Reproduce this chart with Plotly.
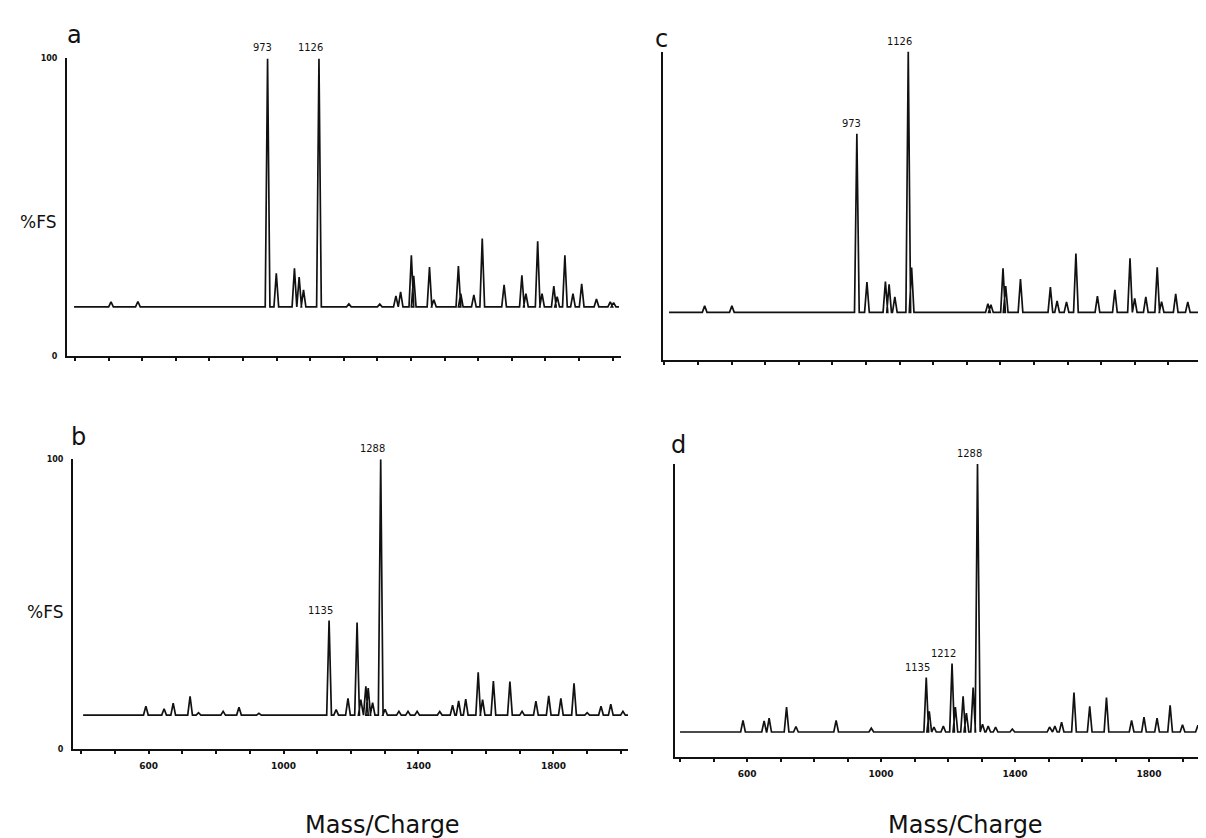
import plotly.graph_objects as go

W, H = 1206, 838

# ---------------- data ----------------
# Panel a: peak m/z and intensity (%FS)
a_mz = [507, 587, 973, 999, 1053, 1067, 1080, 1126, 1215, 1307, 1355, 1369, 1401, 1408,
        1455, 1468, 1541, 1548, 1587, 1612, 1677, 1730, 1742, 1777, 1790, 1825, 1835,
        1858, 1882, 1908, 1952, 1993, 2003]
a_int = [18.3, 18.4, 100, 27.9, 29.5, 26.6, 22.3, 100, 17.6, 17.5, 20.3, 21.6, 33.9, 27,
         30, 19, 30.3, 21, 20.6, 39.5, 24, 27.2, 21, 38.6, 21, 23.6, 20,
         33.9, 21, 24.3, 19.2, 18.3, 18]
a_base = 16.6
a_span = [397, 2019]

# Panel b
b_mz = [592, 646, 673, 723, 748, 821, 868, 927, 1135, 1156, 1191, 1218, 1229, 1244, 1251,
        1264, 1288, 1301, 1342, 1369, 1396, 1463, 1501, 1519, 1540, 1577, 1590, 1622,
        1671, 1707, 1748, 1786, 1822, 1861, 1900, 1941, 1970, 2006]
b_int = [14.8, 13.9, 15.8, 18.2, 12.5, 13, 14.4, 12.3, 44.3, 13.6, 17.5, 43.6, 17, 21.6, 21,
         16, 100, 13.7, 13, 13, 13, 12.9, 15.1, 16.6, 17.2, 26.5, 17, 23.4,
         23.3, 13, 16.5, 18.3, 17.5, 22.7, 12.5, 14.8, 15.5, 13]
b_base = 11.7
b_span = [406, 2021]

# Panel c
c_mz = [520, 601, 973, 1003, 1058, 1069, 1086, 1126, 1136, 1363, 1372, 1408, 1416, 1460,
        1549, 1569, 1597, 1625, 1689, 1741, 1786, 1800, 1833, 1867, 1880, 1922, 1958]
c_int = [17.6, 17.6, 73.4, 25.3, 25.5, 24.6, 20.5, 100, 30, 18.3, 18, 29.8, 24, 26.3,
         23.7, 19.2, 18.9, 34.6, 20.8, 22.8, 33, 20, 20.5, 30.1, 19, 21.5, 18.9]
c_base = 15.5
c_span = [414, 2036]

# Panel d
d_mz = [588, 651, 666, 718, 746, 866, 971, 1135, 1144, 1158, 1186, 1212, 1222, 1245, 1255,
        1275, 1288, 1303, 1320, 1342, 1392, 1503, 1519, 1539, 1576, 1623, 1673, 1748,
        1785, 1824, 1863, 1900, 1946, 1976]
d_int = [12.5, 12.3, 13.2, 17, 10.4, 12.5, 9.8, 27.1, 15.6, 10.2, 10.5, 31.9, 17, 20.7, 15,
         23.7, 100, 11.2, 10.5, 10.2, 9.5, 10.2, 10.5, 11.9, 22, 17.3, 20.3, 12.5,
         13.6, 13.2, 17.6, 11, 10.8, 12.2]
d_base = 8.5
d_span = [400, 1994]

# labelled peaks per panel
a_labels = [973, 1126]
b_labels = [1135, 1288]
c_labels = [973, 1126]
d_labels = [1135, 1212, 1288]

x_tick_labels = {600: "600", 1000: "1000", 1400: "1400", 1800: "1800"}
y_label = "%FS"
x_title = "Mass/Charge"

# ---------------- layout geometry (pixels) ----------------
def px(x):
    return x / W

def py(y):
    return 1 - y / H

panels = {
    "a": dict(mz=a_mz, it=a_int, base=a_base, span=a_span, labels=a_labels,
              xdom=[59, 613], ydom=[348, 47], xr=[376, 2025], xlab=False, ylab=True),
    "b": dict(mz=b_mz, it=b_int, base=b_base, span=b_span, labels=b_labels,
              xdom=[65, 620], ydom=[745, 452], xr=[376, 2021], xlab=True, ylab=True),
    "c": dict(mz=c_mz, it=c_int, base=c_base, span=c_span, labels=c_labels,
              xdom=[655, 1206], ydom=[352, 40], xr=[396, 2036], xlab=False, ylab=False),
    "d": dict(mz=d_mz, it=d_int, base=d_base, span=d_span, labels=d_labels,
              xdom=[667, 1206], ydom=[753, 457], xr=[385, 1994], xlab=True, ylab=False),
}

HALF_W = 7  # half width of a peak at its base, in m/z units (style)

fig = go.Figure()
annotations = []
ink = "#111111"
layout_axes = {}

for i, (name, p) in enumerate(panels.items()):
    n = "" if i == 0 else str(i + 1)
    xa, ya = "x" + n, "y" + n
    # build the trace outline from the peak list
    xs = [p["span"][0]]
    ys = [p["base"]]
    for m, h in sorted(zip(p["mz"], p["it"])):
        xs += [m - HALF_W, m, m + HALF_W]
        ys += [p["base"], h, p["base"]]
    xs.append(p["span"][1])
    ys.append(p["base"])
    fig.add_trace(go.Scatter(x=xs, y=ys, mode="lines", xaxis=xa, yaxis=ya,
                             line=dict(color=ink, width=1.7), showlegend=False,
                             hoverinfo="skip"))

    ticks = list(range(400, 2001, 100))
    text = [x_tick_labels.get(t, "") if p["xlab"] else "" for t in ticks]
    layout_axes["xaxis" + n] = dict(
        domain=[px(p["xdom"][0]), px(p["xdom"][1])], range=p["xr"], anchor=ya,
        showline=True, linecolor=ink, linewidth=2, showgrid=False, zeroline=False,
        ticks="outside", ticklen=3, tickwidth=1.5, tickcolor=ink,
        tickvals=ticks, ticktext=text, ticklabelstandoff=4,
        tickfont=dict(family="DejaVu Sans", size=9, color=ink, weight="bold"))
    layout_axes["yaxis" + n] = dict(
        domain=[py(p["ydom"][0]), py(p["ydom"][1])], range=[0, 100], anchor=xa,
        showline=True, linecolor=ink, linewidth=2, showgrid=False, zeroline=False,
        ticks="", tickvals=[0, 100] if p["ylab"] else [],
        ticktext=["0", "100"] if p["ylab"] else [], ticklabelstandoff=6,
        tickfont=dict(family="DejaVu Sans", size=8, color=ink, weight="bold"))

    # peak labels
    for m in p["labels"]:
        h = p["it"][p["mz"].index(m)]
        annotations.append(dict(x=m, y=h, xref=xa, yref=ya, text=str(m), showarrow=False,
                                xanchor="right", yanchor="bottom", xshift=6, yshift=2,
                                font=dict(family="DejaVu Sans Condensed, DejaVu Sans",
                                          size=11, color=ink)))

# panel letters
for letter, (lx, ly) in {"a": (66, 23), "b": (70, 430), "c": (653, 27), "d": (670, 438)}.items():
    annotations.append(dict(x=px(lx), y=py(ly), xref="paper", yref="paper", text=letter,
                            showarrow=False, xanchor="center", yanchor="middle",
                            font=dict(family="DejaVu Sans", size=24, color=ink)))

# %FS labels
for (lx, ly) in [(30, 212), (37, 607)]:
    annotations.append(dict(x=px(lx), y=py(ly), xref="paper", yref="paper", text=y_label,
                            showarrow=False, xanchor="center", yanchor="middle",
                            font=dict(family="DejaVu Sans", size=17, color=ink)))

# x titles
for (lx, ly) in [(375, 822), (957, 822)]:
    annotations.append(dict(x=px(lx), y=py(ly), xref="paper", yref="paper", text=x_title,
                            showarrow=False, xanchor="center", yanchor="middle",
                            font=dict(family="DejaVu Sans", size=24, color=ink)))

fig.update_layout(width=W, height=H, margin=dict(l=0, r=0, t=0, b=0),
                  paper_bgcolor="white", plot_bgcolor="white",
                  annotations=annotations, **layout_axes)

fig.write_html("out.html")
